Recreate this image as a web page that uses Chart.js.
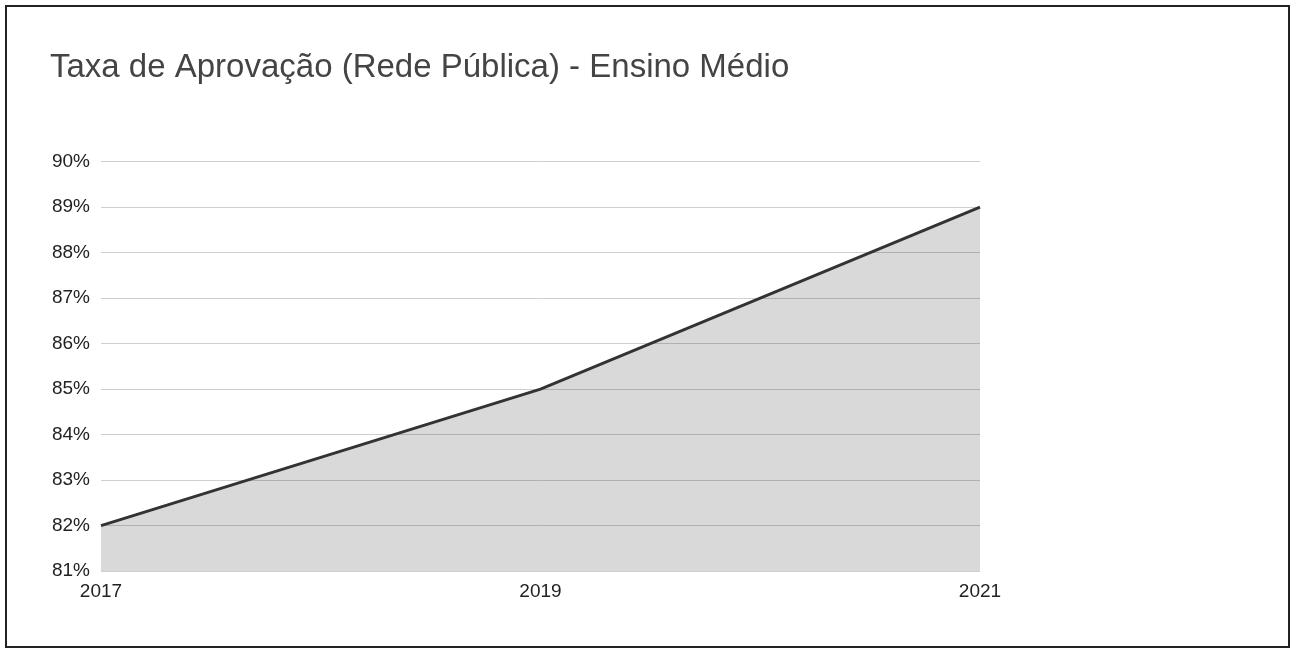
<!DOCTYPE html>
<html>
<head>
<meta charset="utf-8">
<script src="https://cdn.jsdelivr.net/npm/chart.js@4"></script>
<style>
  html, body { margin: 0; padding: 0; background: #fff; }
  #wrap { position: relative; width: 1291px; height: 650px; }
  #frame { position: absolute; left: 5px; top: 5px; width: 1285px; height: 643px;
           border: 2px solid #222; box-sizing: border-box; pointer-events: none; }
  canvas { position: absolute; left: 0; top: 0; }
</style>
</head>
<body>
<div id="wrap">
  <canvas id="chart" width="1291" height="650"></canvas>
  <div id="frame"></div>
</div>
<script>
// ── dados ────────────────────────────────────────────────────────────────
const YEARS = ['2017', '2019', '2021'];
const APPROVAL = [82, 85, 89];
const Y_MIN = 81, Y_MAX = 90;

const FONT = "'Liberation Sans', Arial, sans-serif";

const ctx = document.getElementById('chart').getContext('2d');

new Chart(ctx, {
  type: 'line',
  data: {
    labels: YEARS,
    datasets: [{
      label: 'Taxa de Aprovação',
      data: APPROVAL,
      borderColor: '#333',
      borderWidth: 3,
      backgroundColor: 'rgba(0,0,0,0.15)',
      fill: 'origin',
      pointRadius: 0,
      tension: 0
    }]
  },
  options: {
    responsive: false,
    animation: false,
    layout: { padding: { left: 50, right: 311, top: 0, bottom: 46 } },
    scales: {
      x: {
        grid: { display: false },
        border: { display: false },
        ticks: { color: '#222', font: { family: FONT, size: 19 }, padding: 1, maxRotation: 0 }
      },
      y: {
        min: Y_MIN,
        max: Y_MAX,
        grid: { color: '#cfcfcf', lineWidth: 1, drawTicks: false },
        border: { display: false },
        ticks: {
          stepSize: 1,
          color: '#222',
          font: { family: FONT, size: 19 },
          padding: 11,
          callback: v => v + '%'
        },
        afterFit: scale => { scale.width = 51; }
      }
    },
    plugins: {
      legend: { display: false },
      tooltip: { enabled: false },
      title: {
        display: true,
        text: 'Taxa de Aprovação (Rede Pública) - Ensino Médio',
        align: 'start',
        color: '#444',
        font: { family: FONT, size: 33, weight: 'normal' },
        padding: { top: 48, bottom: 74 }
      }
    }
  }
});
</script>
</body>
</html>
